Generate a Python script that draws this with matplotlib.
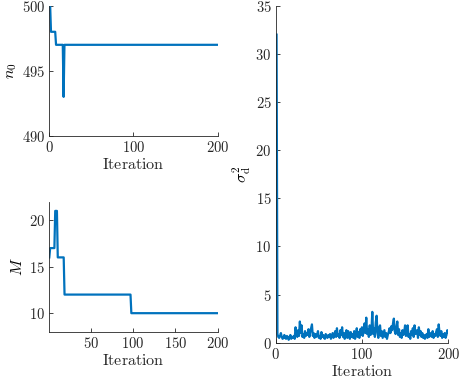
import matplotlib
matplotlib.use("Agg")
import matplotlib.pyplot as plt
from matplotlib.ticker import FuncFormatter
import numpy as np

plt.rcParams['mathtext.fontset'] = 'cm'
plt.rcParams['font.family'] = 'DejaVu Serif'

iterations = list(range(1, 201))

# n0 per iteration
n0 = [500] + [498] * 6 + [497] * 9 + [493] + [497] * 183

# M per iteration
M = [16] + [17] * 6 + [21] * 3 + [16] * 8 + [12] * 79 + [10] * 103

# sigma_d^2 per iteration
sigma_d2 = [32.0,
    0.9, 0.6, 0.5, 0.7, 1.0, 0.6, 0.4, 0.5, 0.8,
    0.5, 0.4, 0.7, 0.6, 0.3, 0.5, 0.8, 0.4, 0.6, 0.5,
    0.7, 0.4, 1.6, 0.9, 0.6, 1.3, 0.7, 2.2, 1.0, 1.8,
    0.6, 0.9, 0.5, 1.2, 0.7, 1.0, 0.8, 1.4, 0.6, 1.1,
    1.5, 1.9, 0.7, 1.0, 0.5, 0.9, 0.6, 0.8, 1.2, 0.5,
    0.7, 0.4, 1.1, 0.6, 0.8, 0.5, 0.4, 0.9, 0.6, 0.5,
    0.8, 0.6, 0.9, 0.4, 0.7, 1.0, 0.5, 0.8, 1.2, 0.6,
    1.5, 0.7, 0.9, 0.5, 1.3, 0.8, 1.6, 0.6, 1.0, 0.4,
    0.9, 1.3, 0.5, 1.2, 0.7, 0.4, 1.1, 0.6, 0.9, 0.5,
    1.2, 0.4, 0.8, 1.5, 0.6, 1.1, 0.5, 1.4, 0.8, 1.6,
    0.7, 1.3, 2.0, 1.0, 2.6, 0.9, 1.4, 0.6, 1.8, 0.8,
    1.2, 3.2, 0.9, 1.5, 0.6, 2.1, 2.8, 1.0, 0.5, 1.6,
    1.8, 0.7, 1.2, 0.5, 0.9, 1.3, 0.6, 1.0, 0.4, 0.8,
    1.1, 1.5, 1.0, 1.7, 1.3, 2.0, 2.5, 1.2, 0.9, 1.6,
    2.2, 0.8, 1.4, 0.6, 1.0, 0.5, 1.3, 0.8, 1.1, 1.8,
    0.7, 1.0, 1.8, 0.6, 0.9, 0.4, 1.2, 0.8, 1.5, 0.6,
    1.8, 0.9, 1.0, 1.3, 0.5, 1.6, 0.8, 1.2, 0.6, 1.0,
    0.5, 0.8, 0.4, 0.7, 0.9, 0.5, 1.4, 0.6, 1.0, 0.8,
    0.6, 1.2, 0.5, 0.9, 0.7, 1.1, 1.4, 0.6, 1.9, 1.0,
    0.7, 1.2, 0.5, 0.9, 0.6, 1.0, 0.5, 0.8, 1.3, 1.1]

blue = '#0072BD'
spine_col = '#262626'
fs = 10.5

fig = plt.figure(figsize=(4.63, 3.84), dpi=100)

mathfmt = FuncFormatter(lambda v, p: r'$%d$' % v)

def style(ax):
    for s in ['top', 'right']:
        ax.spines[s].set_visible(False)
    for s in ['left', 'bottom']:
        ax.spines[s].set_color(spine_col)
        ax.spines[s].set_linewidth(0.6)
    ax.tick_params(direction='in', length=3, width=0.6, colors=spine_col,
                   labelsize=fs, labelcolor='#262626', pad=3)
    ax.xaxis.set_major_formatter(mathfmt)
    ax.yaxis.set_major_formatter(mathfmt)
    ax.set_xlabel(r'$\mathrm{Iteration}$', fontsize=fs + 1, color='#262626', labelpad=1)

ax1 = fig.add_axes([0.1065, 0.646, 0.3635, 0.339])
ax1.plot(iterations, n0, color=blue, lw=1.6)
ax1.set_xlim(0, 200)
ax1.set_ylim(490, 500)
ax1.set_xticks([0, 100, 200])
ax1.set_yticks([490, 495, 500])
style(ax1)
ax1.set_ylabel(r'$n_0$', fontsize=fs + 1, labelpad=2)

ax2 = fig.add_axes([0.1065, 0.136, 0.3635, 0.339])
ax2.plot(iterations, M, color=blue, lw=1.6)
ax2.set_xlim(1, 200)
ax2.set_ylim(8, 22)
ax2.set_xticks([50, 100, 150, 200])
ax2.set_yticks([10, 15, 20])
style(ax2)
ax2.set_ylabel(r'$M$', fontsize=fs + 1, labelpad=2)

ax3 = fig.add_axes([0.5955, 0.1076, 0.3725, 0.8774])
ax3.plot(iterations, sigma_d2, color=blue, lw=1.6)
ax3.set_xlim(0, 200)
ax3.set_ylim(0, 35)
ax3.set_xticks([0, 100, 200])
ax3.set_yticks([0, 5, 10, 15, 20, 25, 30, 35])
style(ax3)
ax3.set_ylabel(r'$\sigma_\mathrm{d}^2$', fontsize=fs + 1, labelpad=2)

fig.savefig('out.png', dpi=100)
